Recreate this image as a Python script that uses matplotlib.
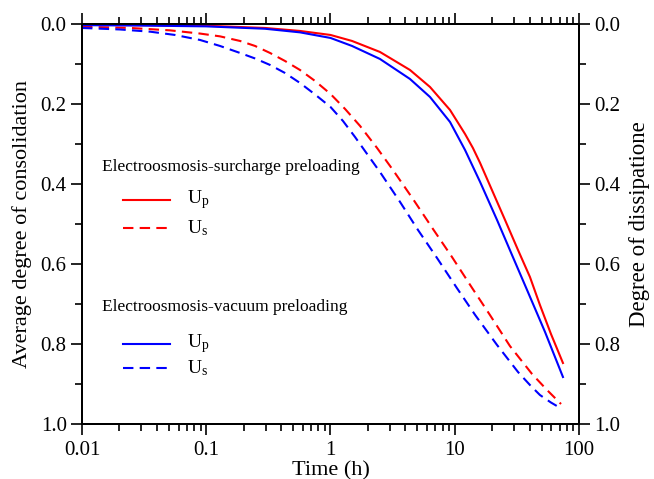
import matplotlib
matplotlib.use("Agg")
import matplotlib.pyplot as plt
from matplotlib.ticker import FormatStrFormatter, FixedLocator, MultipleLocator
from matplotlib.lines import Line2D

plt.rcParams["font.family"] = ["Liberation Serif", "DejaVu Serif"]
plt.rcParams["mathtext.fontset"] = "custom"
plt.rcParams["mathtext.rm"] = "Liberation Serif"
plt.rcParams["mathtext.it"] = "Liberation Serif:italic"

RED = "#FF0000"
BLUE = "#0000FF"

# Electroosmosis-surcharge preloading
t_sur_up = [0.01, 0.0293, 0.0995, 0.297, 0.568, 1.0, 1.49, 2.5, 4.36, 6.32,
            9.16, 12.1, 14.0, 16.0, 25.4, 32.3, 40.3, 48.5, 59.5, 74.3]
u_sur_up = [0.002, 0.003, 0.0045, 0.01, 0.0175, 0.0275, 0.0425, 0.07, 0.115,
            0.1575, 0.215, 0.275, 0.31, 0.3475, 0.49, 0.565, 0.6325, 0.7025,
            0.775, 0.8475]
t_sur_us = [0.01, 0.0243, 0.0511, 0.089, 0.129, 0.187, 0.247, 0.326, 0.43,
            0.568, 0.751, 1.0, 1.31, 1.73, 2.37, 3.18, 4.61, 6.68, 9.5, 13.8,
            19.2, 27.8, 41.9, 55.3, 71.7]
u_sur_us = [0.007, 0.01, 0.016, 0.024, 0.031, 0.0425, 0.055, 0.0725, 0.0925,
            0.115, 0.1425, 0.175, 0.2125, 0.255, 0.31, 0.365, 0.4375, 0.5125,
            0.5825, 0.66, 0.7275, 0.805, 0.875, 0.915, 0.95]

# Electroosmosis-vacuum preloading
t_vac_up = [0.01, 0.0293, 0.0995, 0.297, 0.568, 1.0, 1.49, 2.5, 4.36, 6.32,
            9.16, 12.1, 16.0, 21.9, 28.9, 38.2, 53.3, 74.3]
u_vac_up = [0.003, 0.004, 0.006, 0.012, 0.021, 0.035, 0.055, 0.0875, 0.1375,
            0.1825, 0.245, 0.315, 0.395, 0.49, 0.5775, 0.665, 0.77, 0.8825]
t_vac_us = [0.01, 0.0202, 0.0353, 0.056, 0.089, 0.129, 0.187, 0.247, 0.326,
            0.43, 0.568, 0.751, 1.0, 1.26, 1.575, 1.97, 2.5, 3.63, 5.06, 7.2,
            10.4, 14.6, 21.9, 32.3, 40.3, 48.5, 59.5, 73.0]
u_vac_us = [0.01, 0.0138, 0.0193, 0.0275, 0.04, 0.055, 0.0725, 0.0863, 0.1025,
            0.1225, 0.1475, 0.1763, 0.2075, 0.2425, 0.2825, 0.325, 0.37, 0.445,
            0.515, 0.585, 0.66, 0.7275, 0.8025, 0.87, 0.9025, 0.9275, 0.9463,
            0.9625]

x_ticks = [0.01, 0.1, 1, 10, 100]
x_tick_labels = ["0.01", "0.1", "1", "10", "100"]

LW = 1.5
DASH = (5, 3)

fig = plt.figure(figsize=(6.54, 4.79), dpi=100)
ax = fig.add_axes([0.1254, 0.1148, 0.7599, 0.8352])

ax.plot(t_sur_up, u_sur_up, color=RED, lw=LW)
ax.plot(t_sur_us, u_sur_us, color=RED, lw=LW, dashes=DASH)
ax.plot(t_vac_up, u_vac_up, color=BLUE, lw=LW)
ax.plot(t_vac_us, u_vac_us, color=BLUE, lw=LW, dashes=DASH)

ax.set_xscale("log")
ax.set_xlim(0.01, 100)
ax.xaxis.set_major_locator(FixedLocator(x_ticks))
ax.set_xticklabels(x_tick_labels)

ax2 = ax.twinx()
for a in (ax, ax2):
    a.set_ylim(1.0, 0.0)
    a.yaxis.set_major_locator(MultipleLocator(0.2))
    a.yaxis.set_minor_locator(MultipleLocator(0.1))
    a.yaxis.set_major_formatter(FormatStrFormatter("%.1f"))
    a.tick_params(which="major", direction="out", length=8, width=1.2,
                  labelsize=15, pad=3)
    a.tick_params(which="minor", direction="out", length=5, width=1.2)
    for sp in a.spines.values():
        sp.set_linewidth(1.4)

ax.tick_params(axis="x", which="both", top=True)
ax.tick_params(axis="x", which="major", pad=4)

ax.set_xlabel("Time (h)", fontsize=16, labelpad=1)
ax.set_ylabel("Average degree of consolidation", fontsize=16, labelpad=6)
ax2.set_ylabel("Degree of dissipatione", fontsize=16.5, labelpad=6)


def legend_block(title, y_title, y_rows, color):
    # title line followed by a solid (Up) and a dashed (Us) sample
    ax.text(0.040, y_title, title, transform=ax.transAxes, fontsize=12.5,
            va="center", ha="left")
    for y, lab, ls in zip(y_rows, [r"U$_{\mathrm{p}}$", r"U$_{\mathrm{s}}$"],
                          [None, DASH]):
        ln = Line2D([0.0825, 0.177], [y, y], transform=ax.transAxes,
                    color=color, lw=LW)
        if ls is not None:
            ln.set_dashes(ls)
        ax.add_line(ln)
        ax.text(0.211, y, lab, transform=ax.transAxes, fontsize=14,
                va="center", ha="left")


legend_block("Electroosmosis-surcharge preloading", 0.6425, [0.56, 0.49], RED)
legend_block("Electroosmosis-vacuum preloading", 0.2925, [0.20, 0.14], BLUE)

fig.savefig("out.png", dpi=100)
